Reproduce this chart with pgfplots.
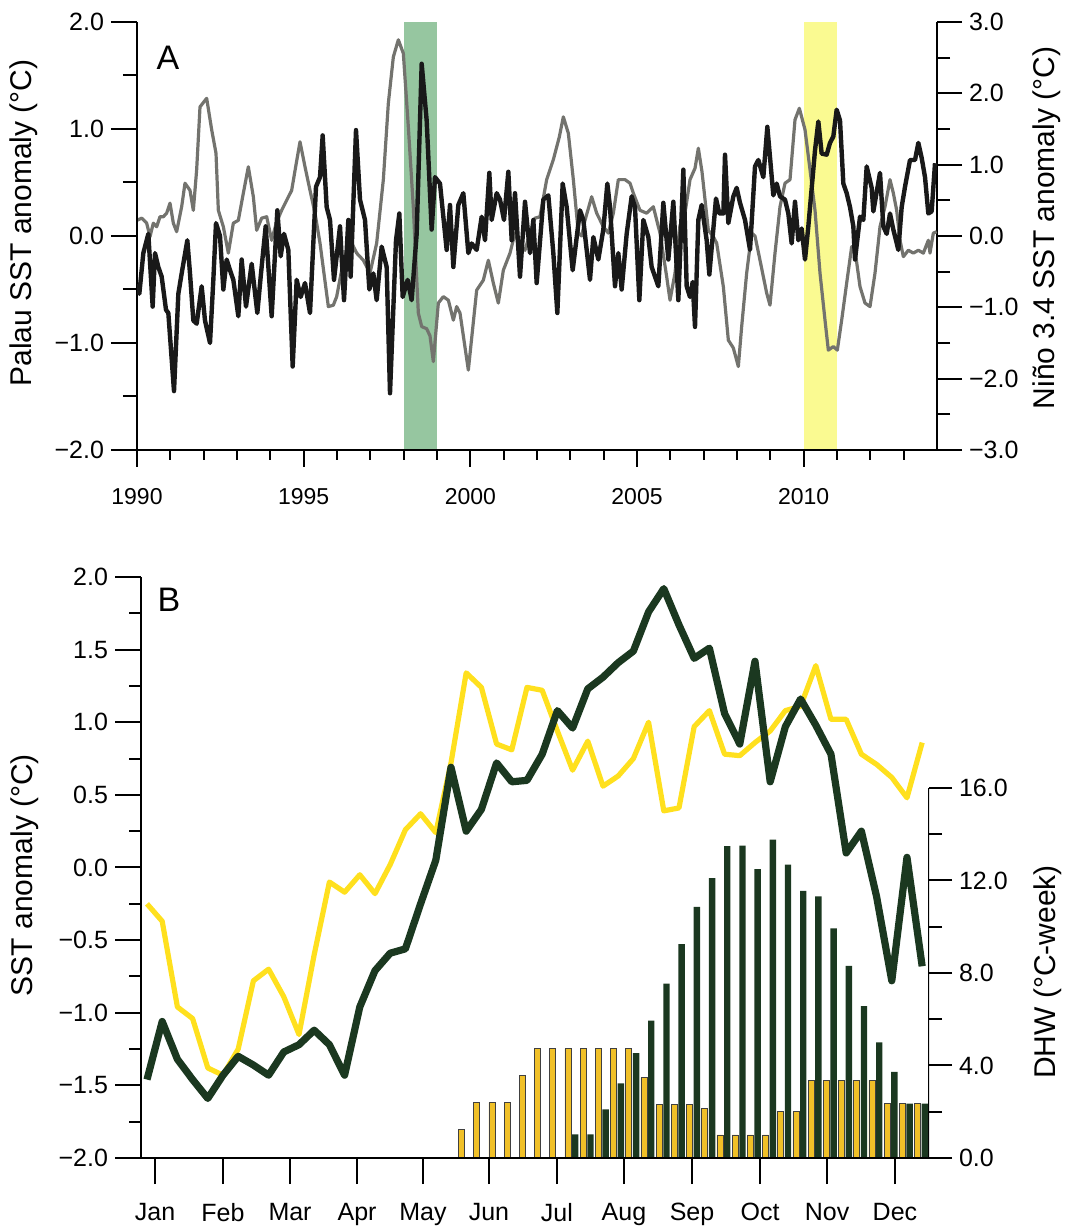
\documentclass[border=0pt]{standalone}
\usepackage{fontspec}
\setmainfont{Liberation Sans}
\usepackage{pgfplots}
\usepackage{pgfplotstable}
\pgfplotsset{compat=1.18}

\definecolor{palau}{RGB}{25,25,25}
\definecolor{nino}{RGB}{115,115,110}
\definecolor{band98}{RGB}{150,198,160}
\definecolor{band10}{RGB}{250,250,145}
\definecolor{yr98}{RGB}{27,56,32}
\definecolor{yr10}{RGB}{255,224,30}
\definecolor{bar10}{RGB}{240,192,40}

\pgfplotsset{
  base/.style={scale only axis, anchor=south west,
    axis line style={line width=1.1pt}, tick style={line width=1pt, black},
    tick align=outside, /pgf/number format/assume math mode=true,
    tick label style={font=\fontsize{12.5}{15}\selectfont}},
  panelA/.style={base, at={(68.5pt,390pt)}, width=400pt, height=214pt, xmin=1990, xmax=2014},
  panelB/.style={base, at={(70.5pt,36pt)}, width=394pt, height=290.5pt, xmin=0.605, xmax=52.45},
}

% panel A: monthly SST anomalies
\pgfplotstableread{
x y
1990.00 -0.45
1990.07 -0.54
1990.19 -0.16
1990.34 0.02
1990.47 -0.66
1990.54 -0.16
1990.64 -0.29
1990.74 -0.38
1990.87 -0.69
1990.94 -0.72
1991.11 -1.45
1991.24 -0.54
1991.34 -0.35
1991.51 -0.04
1991.59 -0.35
1991.69 -0.79
1991.79 -0.82
1991.94 -0.47
1992.04 -0.79
1992.19 -1.00
1992.29 -0.41
1992.37 0.12
1992.49 0.00
1992.59 -0.50
1992.69 -0.22
1992.79 -0.32
1992.89 -0.41
1993.04 -0.75
1993.14 -0.22
1993.27 -0.66
1993.44 -0.26
1993.61 -0.72
1993.72 -0.35
1993.86 0.09
1994.04 -0.75
1994.21 0.24
1994.31 -0.19
1994.41 0.02
1994.54 -0.13
1994.67 -1.22
1994.79 -0.41
1994.91 -0.57
1995.04 -0.44
1995.19 -0.72
1995.37 0.46
1995.49 0.55
1995.57 0.94
1995.69 0.27
1995.79 0.15
1995.91 -0.41
1996.09 0.09
1996.21 -0.60
1996.34 0.15
1996.41 -0.38
1996.57 0.99
1996.69 0.34
1996.84 0.15
1996.97 -0.50
1997.09 -0.35
1997.19 -0.60
1997.34 -0.10
1997.49 -0.29
1997.59 -1.47
1997.77 -0.04
1997.87 0.21
1997.97 -0.57
1998.12 -0.41
1998.24 -0.60
1998.39 0.02
1998.54 1.61
1998.69 1.08
1998.84 0.06
1998.94 0.55
1999.09 0.49
1999.29 -0.13
1999.39 0.29
1999.49 -0.29
1999.64 0.29
1999.79 0.40
1999.94 -0.16
2000.04 -0.07
2000.19 -0.13
2000.34 0.18
2000.44 -0.04
2000.57 0.59
2000.64 0.15
2000.79 0.40
2000.89 0.34
2001.01 0.15
2001.14 0.60
2001.24 -0.04
2001.34 0.40
2001.49 -0.38
2001.64 0.32
2001.79 -0.16
2001.89 0.15
2001.99 -0.44
2002.19 0.34
2002.34 0.38
2002.49 -0.16
2002.61 -0.72
2002.77 0.49
2002.89 0.27
2003.07 -0.32
2003.29 0.24
2003.39 0.15
2003.59 -0.41
2003.69 -0.01
2003.84 -0.22
2003.99 0.06
2004.11 0.49
2004.19 0.27
2004.34 -0.47
2004.44 -0.16
2004.54 -0.50
2004.69 0.02
2004.84 0.37
2004.94 0.27
2005.07 -0.60
2005.19 0.15
2005.34 -0.01
2005.44 -0.29
2005.64 -0.47
2005.79 0.31
2005.94 -0.22
2006.09 0.32
2006.24 -0.60
2006.39 0.62
2006.49 -0.47
2006.59 -0.57
2006.67 -0.43
2006.74 -0.85
2006.84 0.15
2006.94 0.29
2007.09 -0.04
2007.17 -0.36
2007.37 0.35
2007.47 0.21
2007.59 0.21
2007.64 0.76
2007.74 0.12
2007.89 0.37
2007.99 0.45
2008.09 0.31
2008.24 0.15
2008.39 -0.13
2008.54 0.65
2008.64 0.71
2008.79 0.55
2008.91 1.02
2009.09 0.38
2009.19 0.49
2009.29 0.37
2009.44 0.34
2009.54 0.21
2009.64 -0.07
2009.74 0.32
2009.84 -0.04
2009.94 0.07
2010.04 -0.22
2010.14 0.09
2010.34 0.80
2010.44 1.07
2010.54 0.77
2010.69 0.76
2010.79 0.87
2010.89 0.93
2010.99 1.18
2011.09 1.08
2011.19 0.49
2011.29 0.40
2011.39 0.27
2011.49 0.09
2011.54 -0.22
2011.69 0.18
2011.79 0.15
2011.89 0.65
2012.04 0.45
2012.09 0.23
2012.29 0.59
2012.39 0.09
2012.49 0.02
2012.59 0.21
2012.69 0.06
2012.84 -0.13
2012.94 0.27
2013.04 0.46
2013.19 0.71
2013.34 0.71
2013.44 0.87
2013.54 0.73
2013.64 0.55
2013.74 0.21
2013.84 0.23
2013.94 0.68
}\palau

\pgfplotstableread{
x y
1990.00 0.22
1990.14 0.25
1990.29 0.18
1990.39 -0.01
1990.49 0.18
1990.59 0.13
1990.69 0.27
1990.79 0.27
1990.89 0.32
1990.99 0.46
1991.09 0.18
1991.19 0.06
1991.34 0.41
1991.44 0.74
1991.59 0.64
1991.69 0.36
1991.79 0.93
1991.89 1.81
1992.09 1.93
1992.24 1.49
1992.37 1.16
1992.44 0.36
1992.59 0.13
1992.74 -0.24
1992.89 0.18
1993.04 0.22
1993.19 0.60
1993.34 0.97
1993.49 0.55
1993.59 0.08
1993.74 0.25
1993.89 0.27
1994.04 -0.06
1994.19 0.20
1994.34 0.36
1994.49 0.50
1994.64 0.64
1994.76 0.97
1994.89 1.32
1995.04 0.97
1995.19 0.64
1995.34 0.32
1995.49 -0.10
1995.74 -0.99
1995.89 -0.97
1995.99 -0.85
1996.14 -0.48
1996.29 -0.20
1996.44 -0.10
1996.59 -0.24
1996.79 -0.34
1996.99 -0.52
1997.19 -0.10
1997.39 0.79
1997.54 1.86
1997.69 2.51
1997.84 2.75
1997.99 2.56
1998.14 1.53
1998.29 0.40
1998.44 -1.08
1998.54 -1.27
1998.69 -1.30
1998.79 -1.40
1998.89 -1.76
1999.04 -0.94
1999.19 -0.85
1999.34 -0.90
1999.49 -1.18
1999.59 -0.99
1999.69 -1.08
1999.94 -1.88
2000.19 -0.76
2000.39 -0.62
2000.54 -0.34
2000.69 -0.66
2000.84 -0.94
2000.99 -0.48
2001.19 -0.24
2001.34 0.04
2001.49 -0.15
2001.64 -0.20
2001.79 0.04
2001.94 0.25
2002.09 0.27
2002.29 0.79
2002.49 1.07
2002.67 1.39
2002.79 1.67
2002.94 1.44
2003.09 0.79
2003.24 0.04
2003.34 0.00
2003.44 0.22
2003.64 0.55
2003.79 0.32
2003.99 0.13
2004.14 0.04
2004.29 0.32
2004.44 0.79
2004.64 0.79
2004.79 0.74
2004.89 0.60
2005.09 0.36
2005.29 0.32
2005.49 0.41
2005.69 0.04
2005.89 -0.57
2005.99 -0.90
2006.14 -0.52
2006.29 0.15
2006.44 0.32
2006.59 0.79
2006.74 0.95
2006.84 1.23
2006.95 0.90
2007.14 0.08
2007.29 -0.01
2007.39 -0.10
2007.59 -0.71
2007.74 -1.46
2007.89 -1.57
2008.04 -1.83
2008.14 -1.27
2008.29 -0.52
2008.44 0.04
2008.54 0.00
2008.69 -0.34
2008.89 -0.80
2008.99 -0.97
2009.14 -0.24
2009.29 0.41
2009.44 0.74
2009.59 0.79
2009.74 1.63
2009.87 1.79
2010.04 1.49
2010.19 0.93
2010.34 0.36
2010.49 -0.52
2010.64 -1.18
2010.74 -1.60
2010.89 -1.55
2011.01 -1.60
2011.14 -1.18
2011.29 -0.66
2011.44 -0.15
2011.54 -0.20
2011.69 -0.71
2011.84 -0.94
2011.99 -0.99
2012.14 -0.52
2012.29 0.13
2012.44 0.41
2012.59 0.79
2012.69 0.60
2012.79 0.36
2012.89 -0.06
2012.99 -0.29
2013.14 -0.20
2013.29 -0.24
2013.44 -0.20
2013.59 -0.24
2013.74 -0.06
2013.79 -0.24
2013.89 0.04
2013.99 0.06
}\nino

% panel B: weekly SST anomaly (1998, 2010) and DHW
\pgfplotstableread{
w y
1 -0.25
2 -0.37
3 -0.96
4 -1.04
5 -1.38
6 -1.43
7 -1.25
8 -0.78
9 -0.70
10 -0.89
11 -1.15
12 -0.60
13 -0.10
14 -0.17
15 -0.05
16 -0.18
17 0.02
18 0.26
19 0.37
20 0.24
21 0.72
22 1.34
23 1.24
24 0.85
25 0.81
26 1.24
27 1.22
28 0.94
29 0.67
30 0.87
31 0.56
32 0.63
33 0.75
34 1.00
35 0.39
36 0.41
37 0.97
38 1.08
39 0.78
40 0.77
41 0.86
42 0.94
43 1.08
44 1.11
45 1.39
46 1.02
47 1.02
48 0.78
49 0.71
50 0.62
51 0.48
52 0.86
}\sstten

\pgfplotstableread{
w y
1 -1.46
2 -1.06
3 -1.32
4 -1.46
5 -1.59
6 -1.43
7 -1.30
8 -1.36
9 -1.43
10 -1.27
11 -1.22
12 -1.12
13 -1.22
14 -1.43
15 -0.96
16 -0.71
17 -0.59
18 -0.56
19 -0.25
20 0.05
21 0.69
22 0.25
23 0.40
24 0.72
25 0.59
26 0.60
27 0.78
28 1.08
29 0.96
30 1.23
31 1.31
32 1.41
33 1.49
34 1.76
35 1.92
36 1.67
37 1.44
38 1.51
39 1.06
40 0.85
41 1.42
42 0.59
43 0.97
44 1.16
45 0.98
46 0.78
47 0.10
48 0.25
49 -0.20
50 -0.78
51 0.07
52 -0.68
}\sstnine

\pgfplotstableread{
w dhw
22 1.23
23 2.39
24 2.39
25 2.39
26 3.56
27 4.72
28 4.72
29 4.72
30 4.72
31 4.72
32 4.72
33 4.72
34 3.48
35 2.30
36 2.30
37 2.30
38 2.16
39 1.00
40 1.00
41 1.00
42 1.00
43 2.00
44 2.00
45 3.36
46 3.36
47 3.36
48 3.36
49 3.36
50 2.35
51 2.35
52 2.35
}\dhwten

\pgfplotstableread{
w dhw
29 1.02
30 1.02
31 2.10
32 3.23
33 4.53
34 5.94
35 7.54
36 9.25
37 10.86
38 12.10
39 13.48
40 13.51
41 12.49
42 13.77
43 12.68
44 11.55
45 11.31
46 9.93
47 8.31
48 6.57
49 5.00
50 3.72
51 2.35
52 2.35
}\dhwnine

\begin{document}
\begin{tikzpicture}
\useasboundingbox (0,0) rectangle (535pt,615pt);

% ---- panel A, right axis (Nino 3.4) with event bands
\begin{axis}[panelA, ymin=-3, ymax=3,
  axis x line=none, axis y line*=right, xtick=\empty,
  ytick={-3,-2,-1,0,1,2,3}, yticklabels={−3.0,−2.0,−1.0,0.0,1.0,2.0,3.0},
  minor ytick={-2.5,-1.5,-0.5,0.5,1.5,2.5},
  major tick length=12.5pt, minor tick length=6.5pt]
\addplot[draw=none, fill=band98] coordinates {(1998,-3) (1998,3) (1999,3) (1999,-3)} -- cycle;
\addplot[draw=none, fill=band10] coordinates {(2010,-3) (2010,3) (2011,3) (2011,-3)} -- cycle;
\addplot[nino, line width=1.6pt, line join=round] table[x=x, y=y] {\nino};
\end{axis}

% ---- panel A, left axis (Palau)
\begin{axis}[panelA, ymin=-2, ymax=2,
  axis x line=none, axis y line*=left, xtick=\empty,
  ytick={-2,-1,0,1,2}, yticklabels={−2.0,−1.0,0.0,1.0,2.0},
  minor ytick={-1.5,-0.5,0.5,1.5},
  major tick length=13pt, minor tick length=7pt]
\addplot[palau, line width=2.2pt, line join=round] table[x=x, y=y] {\palau};
\end{axis}

% ---- panel A, time axis
\begin{axis}[panelA, ymin=-2, ymax=2,
  axis y line=none, axis x line*=bottom, ytick=\empty,
  xtick={1990,1995,2000,2005,2010}, xticklabels={1990,1995,2000,2005,2010},
  minor xtick={1991,1992,...,2013},
  xticklabel style={font=\fontsize{11.5}{14}\selectfont, yshift=-7pt},
  major tick length=8.5pt, minor tick length=5pt]
\end{axis}

% ---- panel B, DHW bars (right axis)
\begin{axis}[panelB, ymin=0, ymax=25.12,
  axis x line=none, axis y line*=right, xtick=\empty,
  y axis line style={draw=none},
  ytick={0,4,8,12,16}, yticklabels={0.0,4.0,8.0,12.0,16.0},
  minor ytick={2,6,10,14},
  major tick length=11.5pt, minor tick length=6.5pt]
\addplot[ybar, bar width=3pt, bar shift=-2.33pt, fill=bar10, draw=black!75, line width=0.35pt] table[x=w, y=dhw] {\dhwten};
\addplot[ybar, bar width=3.2pt, bar shift=1.33pt, fill=yr98, draw=none] table[x=w, y=dhw] {\dhwnine};
\draw[line width=1.1pt] (rel axis cs:1,0) -- (axis cs:52.45,16);
\end{axis}

% ---- panel B, SST anomaly (left axis)
\begin{axis}[panelB, ymin=-2, ymax=2,
  axis x line*=bottom, axis y line*=left,
  xtick={1.53,6.0,10.41,14.82,19.16,23.5,27.97,32.38,36.86,41.33,45.74,50.21},
  xticklabels={Jan,Feb,Mar,Apr,May,Jun,Jul,Aug,Sep,Oct,Nov,Dec},
  xticklabel style={yshift=-6pt},
  ytick={-2,-1.5,...,2}, yticklabels={−2.0,−1.5,−1.0,−0.5,0.0,0.5,1.0,1.5,2.0},
  minor ytick={-1.75,-1.25,-0.75,-0.25,0.25,0.75,1.25,1.75},
  major tick length=13pt, minor tick length=6pt]
\addplot[yr10, line width=2.6pt, line join=round] table[x=w, y=y] {\sstten};
\addplot[yr98, line width=3.6pt, line join=round] table[x=w, y=y] {\sstnine};
\end{axis}

% axis titles and panel letters
\node[rotate=90, font=\fontsize{15}{18}\selectfont] at (12pt,503.5pt) {Palau SST anomaly (°C)};
\node[rotate=90, font=\fontsize{15}{18}\selectfont] at (523.5pt,501pt) {Niño 3.4 SST anomaly (°C)};
\node[rotate=90, font=\fontsize{15}{18}\selectfont] at (12.5pt,177.5pt) {SST anomaly (°C)};
\node[rotate=90, font=\fontsize{15}{18}\selectfont] at (524pt,129pt) {DHW (°C-week)};
\node[font=\fontsize{17}{20}\selectfont] at (84pt,586pt) {A};
\node[font=\fontsize{17}{20}\selectfont] at (84.5pt,315pt) {B};
\end{tikzpicture}
\end{document}
